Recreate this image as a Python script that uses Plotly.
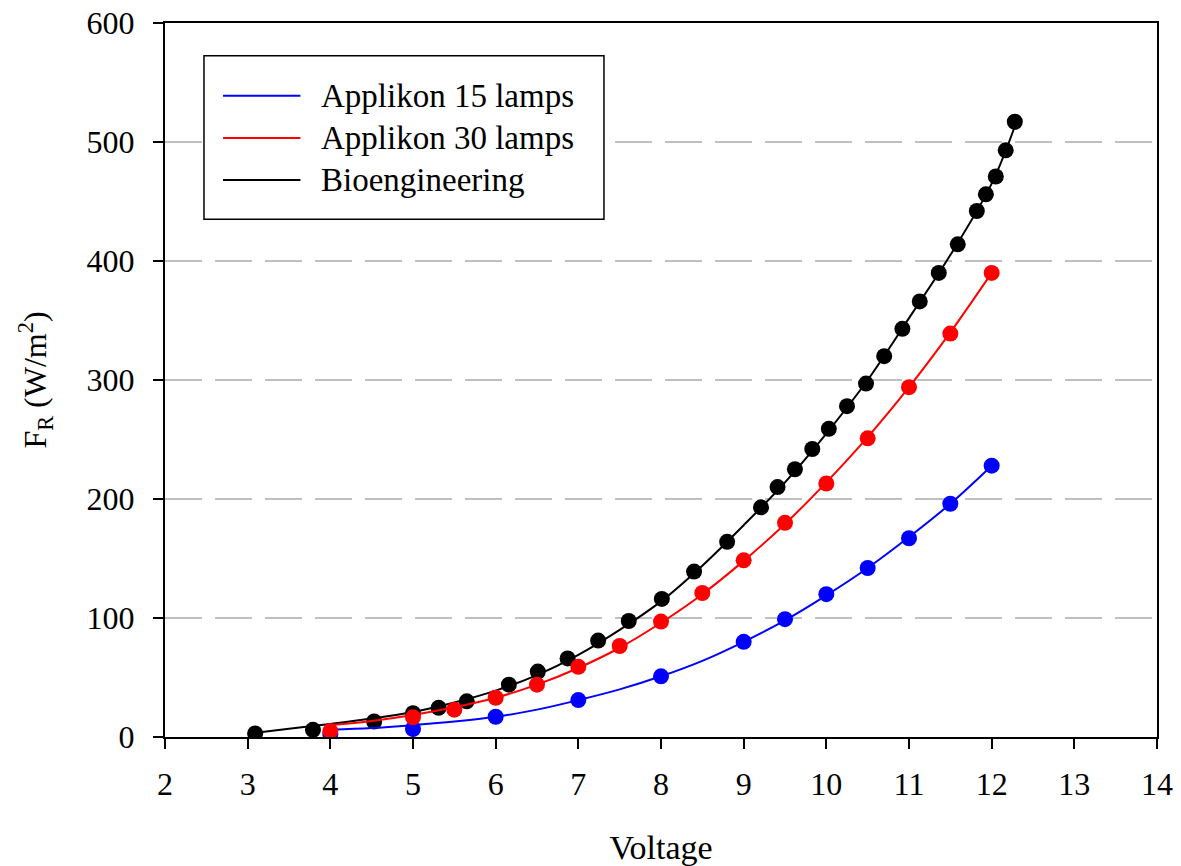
import plotly.graph_objects as go

# Measured points
blue_x = [4, 5, 6, 7, 8, 9, 9.5, 10, 10.5, 11, 11.5, 12]
blue_y = [2.5, 6.7, 17, 31, 51, 80, 99, 120, 142, 167, 196, 228]

red_x = [4, 5, 5.5, 6, 6.5, 7, 7.5, 8, 8.5, 9, 9.5, 10, 10.5, 11, 11.5, 12]
red_y = [5, 16.5, 23, 33, 44, 59, 76.5, 97, 121, 148.5, 180, 213, 251, 294, 339, 390]

black_x = [3.09, 3.79, 4.53, 5.0, 5.31, 5.65, 6.16, 6.51, 6.87, 7.24, 7.61, 8.01,
           8.4, 8.8, 9.21, 9.41, 9.62, 9.83, 10.03, 10.25, 10.48, 10.70, 10.92,
           11.13, 11.36, 11.59, 11.82, 11.93, 12.05, 12.17, 12.28]
black_y = [3, 6, 13, 20, 24.5, 30, 44, 55, 66, 81, 97.5, 116,
           139, 164, 193, 210, 225, 242, 259, 278, 297, 320, 343,
           366, 390, 414, 442, 456, 471, 493, 517]

# Fitted curves, sampled
blue_fit_x = [4, 4.5, 5, 5.5, 6, 6.5, 7, 7.5, 8, 8.5, 9, 9.5, 10, 10.5, 11, 11.5, 12]
blue_fit_y = [6, 7.5, 10, 13, 17, 23, 31, 40, 51, 64, 80, 98, 119, 142, 168, 196, 228]

red_fit_x = [4, 4.5, 5, 5.5, 6, 6.5, 7, 7.5, 8, 8.5, 9, 9.5, 10, 10.5, 11, 11.5, 12]
red_fit_y = [10, 13.5, 18.5, 25, 33, 44, 58, 75, 96, 120, 148, 179, 214, 252, 294, 340, 390]

black_fit_x = [3.1, 3.5, 4, 4.5, 5, 5.5, 6, 6.5, 7, 7.5, 8, 8.5, 9, 9.5, 10, 10.5,
               11, 11.5, 12, 12.3]
black_fit_y = [3.5, 7, 11, 15.5, 21, 29, 39, 52, 69, 90, 114, 144, 178, 214, 255, 300,
               352, 405, 465, 517]

x_ticks = [2, 3, 4, 5, 6, 7, 8, 9, 10, 11, 12, 13, 14]
y_ticks = [0, 100, 200, 300, 400, 500, 600]

series = [
    ("Bioengineering", "#000000", black_fit_x, black_fit_y, black_x, black_y),
    ("Applikon 15 lamps", "#0000FF", blue_fit_x, blue_fit_y, blue_x, blue_y),
    ("Applikon 30 lamps", "#FF0000", red_fit_x, red_fit_y, red_x, red_y),
]
legend_order = ["Applikon 15 lamps", "Applikon 30 lamps", "Bioengineering"]
colors = {name: c for name, c, *_ in series}

FONT = "Liberation Serif, Times New Roman, serif"

fig = go.Figure()
for name, color, fx, fy, px, py in series:
    fig.add_trace(go.Scatter(x=fx, y=fy, mode="lines", line=dict(color=color, width=2, shape="spline"),
                             showlegend=False, hoverinfo="skip"))
    fig.add_trace(go.Scatter(x=px, y=py, mode="markers", name=name,
                             marker=dict(color=color, size=16, line=dict(width=0)),
                             showlegend=False))

# Framed legend drawn in paper coordinates
lx0, lx1, ly0, ly1 = 0.0393, 0.4425, 0.725, 0.954
shapes = [dict(type="rect", xref="paper", yref="paper", x0=lx0, x1=lx1, y0=ly0, y1=ly1,
               line=dict(color="black", width=1.5), fillcolor="white", layer="above")]
annotations = []
row_y = [0.898, 0.839, 0.780]
for name, yy in zip(legend_order, row_y):
    shapes.append(dict(type="line", xref="paper", yref="paper", x0=0.0585, x1=0.1365, y0=yy, y1=yy,
                       line=dict(color=colors[name], width=2), layer="above"))
    annotations.append(dict(xref="paper", yref="paper", x=0.1555, y=yy, xanchor="left",
                            yanchor="middle", text=name, showarrow=False,
                            font=dict(family=FONT, size=33, color="black")))

fig.update_layout(
    width=1181, height=866,
    margin=dict(l=165, r=24, t=23, b=129),
    paper_bgcolor="white", plot_bgcolor="white",
    font=dict(family=FONT, size=32, color="black"),
    shapes=shapes, annotations=annotations,
)
fig.update_xaxes(
    range=[2, 14], tickvals=x_ticks, ticks="outside", ticklen=10, tickwidth=1.5, tickcolor="black",
    showline=True, linecolor="black", linewidth=2, mirror=True, showgrid=False, zeroline=False,
    tickfont=dict(family=FONT, size=32), ticklabelstandoff=8, automargin=False,
    title=dict(text="Voltage", font=dict(family=FONT, size=34), standoff=36),
)
fig.update_yaxes(
    range=[0, 600], tickvals=y_ticks, ticks="outside", ticklen=10, tickwidth=1.5, tickcolor="black",
    showline=True, linecolor="black", linewidth=2, mirror=True, zeroline=False,
    showgrid=True, gridcolor="#C0C0C0", gridwidth=1.5, griddash="37px,13px",
    tickfont=dict(family=FONT, size=32), ticklabelstandoff=12, automargin=False,
    title=dict(text="F<sub>R</sub> (W/m<sup>2</sup>)", font=dict(family=FONT, size=32), standoff=30),
)

fig.write_html("out.html")
